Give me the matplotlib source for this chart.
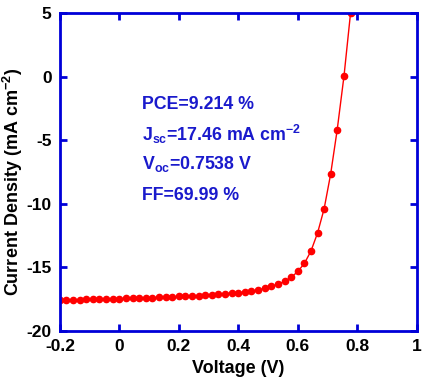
import matplotlib.pyplot as plt

plt.rcParams['font.family'] = 'Liberation Sans'
plt.rcParams['font.weight'] = 'bold'
plt.rcParams['axes.unicode_minus'] = False
plt.rcParams['mathtext.fontset'] = 'custom'
plt.rcParams['mathtext.rm'] = 'Liberation Sans:bold'
plt.rcParams['mathtext.it'] = 'Liberation Sans:bold'
plt.rcParams['mathtext.bf'] = 'Liberation Sans:bold'

# J-V curve
voltage = [-0.200, -0.178, -0.156, -0.133, -0.111, -0.089, -0.067, -0.044, -0.022, 0.000,
           0.022, 0.044, 0.067, 0.089, 0.111, 0.133, 0.156, 0.178, 0.200, 0.222,
           0.244, 0.267, 0.289, 0.311, 0.333, 0.356, 0.378, 0.400, 0.422, 0.444,
           0.467, 0.489, 0.511, 0.533, 0.556, 0.578, 0.600, 0.622, 0.644, 0.666,
           0.688, 0.710, 0.732, 0.755, 0.777]
current = [-17.56, -17.56, -17.54, -17.54, -17.51, -17.51, -17.48, -17.48, -17.46, -17.46,
           -17.43, -17.43, -17.41, -17.38, -17.38, -17.35, -17.35, -17.33, -17.28, -17.25,
           -17.22, -17.22, -17.17, -17.15, -17.12, -17.07, -17.02, -16.99, -16.93, -16.85,
           -16.77, -16.64, -16.49, -16.33, -16.09, -15.78, -15.31, -14.68, -13.71, -12.30,
           -10.41, -7.68, -4.20, 0.05, 5.00]

params = ['PCE=9.214 %', 'J$_{sc}$=17.46 mA cm$^{-2}$', 'V$_{oc}$=0.7538 V', 'FF=69.99 %']

blue = '#0000d8'
txt_blue = '#1a1acc'

fig = plt.figure(figsize=(4.28, 3.86), dpi=100)
ax = fig.add_axes([0.140, 0.1425, 0.834, 0.8235])

ax.plot(voltage, current, color='red', lw=1, marker='o', ms=4.5, mec='red', mfc='red')

ax.set_xlim(-0.2, 1.0)
ax.set_ylim(-20, 5)
ax.set_xticks([-0.2, 0, 0.2, 0.4, 0.6, 0.8, 1.0])
ax.set_xticklabels(['-0.2', '0', '0.2', '0.4', '0.6', '0.8', '1'])
ax.set_yticks([-20, -15, -10, -5, 0, 5])

for s in ax.spines.values():
    s.set_color(blue)
    s.set_linewidth(2)
ax.tick_params(direction='in', length=5, width=2, color=blue, top=True, right=True,
               labelsize=12.5, pad=6)
for lab in ax.get_xticklabels() + ax.get_yticklabels():
    lab.set_fontweight('bold')

ax.set_xlabel('Voltage (V)', fontsize=13, fontweight='bold', labelpad=4)
ax.set_ylabel('Current Density (mA cm$^{-2}$)', fontsize=13, fontweight='bold')
ax.yaxis.set_label_coords(-0.098, 0.468)

ys = [0.714, 0.618, 0.524, 0.427]
for s, y in zip(params, ys):
    ax.text(0.229, y, s, transform=ax.transAxes, color=txt_blue, fontsize=12.8,
            fontweight='bold', va='center', ha='left')

fig.savefig('out.png', dpi=100)
